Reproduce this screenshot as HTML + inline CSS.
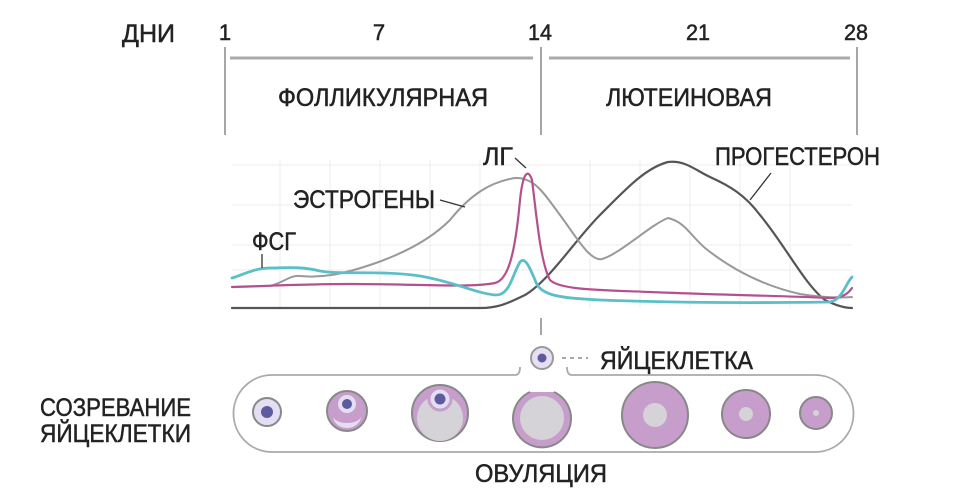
<!DOCTYPE html>
<html><head><meta charset="utf-8"><style>
html,body{margin:0;padding:0;background:#fff;width:956px;height:496px;overflow:hidden}
svg text{font-family:"Liberation Sans","DejaVu Sans",sans-serif;fill:#222;stroke:#222;stroke-width:0.5}
</style></head><body>
<svg width="956" height="496" viewBox="0 0 956 496" xmlns="http://www.w3.org/2000/svg">
<g font-size="25">
<text x="122" y="42" textLength="53" lengthAdjust="spacingAndGlyphs">ДНИ</text>
<text x="225" y="40" text-anchor="middle" font-size="22">1</text>
<text x="379" y="40" text-anchor="middle" font-size="22">7</text>
<text x="540" y="40" text-anchor="middle" font-size="22" textLength="24" lengthAdjust="spacingAndGlyphs">14</text>
<text x="698" y="40" text-anchor="middle" font-size="22" textLength="24" lengthAdjust="spacingAndGlyphs">21</text>
<text x="856" y="40" text-anchor="middle" font-size="22" textLength="24" lengthAdjust="spacingAndGlyphs">28</text>
<text x="278" y="106" textLength="210" lengthAdjust="spacingAndGlyphs">ФОЛЛИКУЛЯРНАЯ</text>
<text x="606" y="106" textLength="166" lengthAdjust="spacingAndGlyphs">ЛЮТЕИНОВАЯ</text>
</g>
<g stroke="#888" stroke-width="1.5">
<line x1="225" y1="47" x2="225" y2="135"/>
<line x1="541" y1="47" x2="541" y2="135"/>
<line x1="857" y1="47" x2="857" y2="135"/>
</g>
<g stroke="#aaa" stroke-width="3">
<line x1="230" y1="58" x2="533" y2="58"/>
<line x1="549" y1="58" x2="850" y2="58"/>
</g>
<g stroke="#eee" stroke-width="1">
<line x1="232" y1="165" x2="852" y2="165"/><line x1="232" y1="205" x2="852" y2="205"/>
<line x1="232" y1="245" x2="852" y2="245"/><line x1="232" y1="270" x2="852" y2="270"/>
<line x1="280" y1="160" x2="280" y2="308"/><line x1="330" y1="160" x2="330" y2="308"/>
<line x1="380" y1="160" x2="380" y2="308"/><line x1="430" y1="160" x2="430" y2="308"/>
<line x1="480" y1="160" x2="480" y2="308"/><line x1="590" y1="160" x2="590" y2="308"/>
<line x1="640" y1="160" x2="640" y2="308"/><line x1="690" y1="160" x2="690" y2="308"/>
<line x1="740" y1="160" x2="740" y2="308"/><line x1="790" y1="160" x2="790" y2="308"/>
</g>
<g fill="none" stroke-linecap="round" stroke-linejoin="round">
<path d="M232,308 L480,308 C500,308 510,302 525,295 C550,280 575,240 600,215 C625,190 645,168 668,162 C685,160 695,170 710,177 C730,186 745,195 760,215 C785,245 805,285 825,300 C835,305 845,308 852,308" stroke="#555" stroke-width="2.2"/>
<path d="M232,287 L270,286 C285,282 290,275 300,276 C320,278 340,275 370,265 C400,255 430,240 450,220 C470,195 490,182 515,178 C535,177 545,195 560,215 C575,235 590,262 602,259 C620,254 650,225 668,218 C685,222 690,235 705,248 C730,268 760,285 800,294 C825,298 840,298 852,297" stroke="#999" stroke-width="2"/>
<path d="M232,287 C270,286 300,284 350,284 C420,284 470,288 495,283 C508,280 515,255 520,200 C523,172 528,168 532,180 C536,210 540,262 550,280 C560,290 600,290 650,292 C720,295 790,296 830,298 C842,298 848,294 852,288" stroke="#b4508e" stroke-width="2.2"/>
<path d="M232,278 C245,274 255,268 270,268 C285,268 300,266 320,271 C340,275 380,270 420,276 C455,282 475,293 495,295 C510,296 512,275 520,262 C525,256 530,268 535,280 C540,296 560,298 600,300 C680,303 760,303 830,302 C842,300 846,283 852,277" stroke="#5bbfc8" stroke-width="2.8"/>
</g>
<g stroke="#333" stroke-width="1.3" fill="none">
<line x1="440" y1="200" x2="465" y2="207"/>
<line x1="515" y1="158" x2="526" y2="168"/>
<line x1="771" y1="173" x2="750" y2="200"/>
<line x1="262" y1="254" x2="262" y2="268"/>
</g>
<g font-size="25">
<text x="293" y="208" textLength="142" lengthAdjust="spacingAndGlyphs">ЭСТРОГЕНЫ</text>
<text x="483" y="165" textLength="30" lengthAdjust="spacingAndGlyphs">ЛГ</text>
<text x="715" y="165" textLength="165" lengthAdjust="spacingAndGlyphs">ПРОГЕСТЕРОН</text>
<text x="252" y="250" textLength="44" lengthAdjust="spacingAndGlyphs">ФСГ</text>
</g>
<line x1="541" y1="318" x2="541" y2="335" stroke="#888" stroke-width="1.5"/>
<circle cx="542" cy="358" r="11" fill="#e6e0f2" stroke="#999" stroke-width="2"/>
<circle cx="542" cy="358" r="4.5" fill="#5e5aa0"/>
<line x1="562" y1="358" x2="588" y2="358" stroke="#888" stroke-width="1.5" stroke-dasharray="4 4"/>
<text x="600" y="369" font-size="25" textLength="153" lengthAdjust="spacingAndGlyphs">ЯЙЦЕКЛЕТКА</text>
<path d="M515,375 L272,375 A38.5,38.5 0 0 0 272,452 L815,452 A38.5,38.5 0 0 0 815,375 L572,375" fill="none" stroke="#aaa" stroke-width="1.8"/>
<path d="M515,375 Q520,375 520,367" fill="none" stroke="#aaa" stroke-width="1.8"/>
<path d="M572,375 Q567,375 567,367" fill="none" stroke="#aaa" stroke-width="1.8"/>
<g stroke="#888" stroke-width="2">
<circle cx="267" cy="412" r="14" fill="#e4def2"/>
<circle cx="267" cy="412" r="6" fill="#5e5aa0" stroke="none"/>
<circle cx="347" cy="411" r="20" fill="#c79dcc"/>
<path d="M333,416 A14,12 0 0 0 361,416 A14,7 0 0 1 333,416Z" fill="#e4def2" stroke="none"/>
<circle cx="347" cy="404" r="9" fill="#e4def2" stroke="none"/>
<circle cx="347" cy="404" r="5" fill="#5e5aa0" stroke="none"/>
<circle cx="440" cy="413" r="28" fill="#c79dcc"/>
<circle cx="440" cy="418" r="23" fill="#d5d2d8" stroke="none"/>
<circle cx="440" cy="399" r="11" fill="#e4def2" stroke="#c79dcc" stroke-width="3"/>
<circle cx="440" cy="399" r="5.5" fill="#5e5aa0" stroke="none"/>
<path d="M530,392 A29,29 0 1 0 554,392" fill="#c79dcc"/>
<circle cx="542" cy="418" r="22" fill="#d5d2d8" stroke="none"/>
<circle cx="655" cy="415" r="33" fill="#c79dcc"/>
<circle cx="655" cy="415" r="12" fill="#d5d2d8" stroke="none"/>
<circle cx="746" cy="414" r="24" fill="#c79dcc"/>
<circle cx="746" cy="414" r="7" fill="#d5d2d8" stroke="none"/>
<circle cx="816" cy="413" r="16" fill="#c79dcc"/>
<circle cx="816" cy="413" r="3" fill="#d5d2d8" stroke="none"/>
</g>
<g font-size="25">
<text x="40" y="416" textLength="151" lengthAdjust="spacingAndGlyphs">СОЗРЕВАНИЕ</text>
<text x="40" y="442" textLength="151" lengthAdjust="spacingAndGlyphs">ЯЙЦЕКЛЕТКИ</text>
<text x="475" y="482" textLength="132" lengthAdjust="spacingAndGlyphs">ОВУЛЯЦИЯ</text>
</g>
</svg>
</body></html>
